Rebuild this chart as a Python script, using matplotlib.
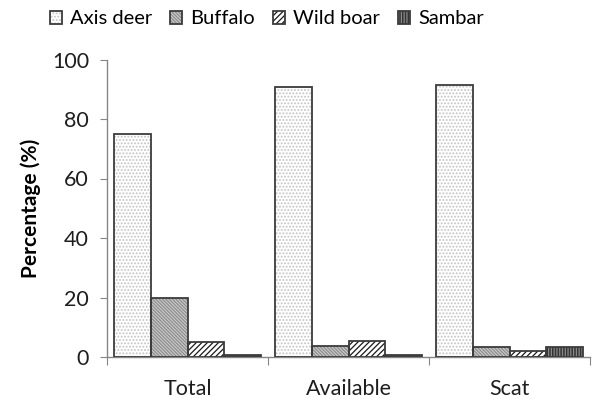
import matplotlib
matplotlib.use("Agg")
import matplotlib.pyplot as plt
import numpy as np
from matplotlib.legend_handler import HandlerTuple

# data
categories = ["Total", "Available", "Scat"]
species = ["Axis deer", "Buffalo", "Wild boar", "Sambar"]
axis_deer = [74.9, 90.9, 91.5]
buffalo = [19.9, 3.8, 3.3]
wild_boar = [5.1, 5.4, 2.1]
sambar = [0.6, 0.6, 3.3]

# fill, hatch, hatch colour per species
styles = [
    ("#ffffff", ".....", "#c4c4c4"),
    ("#cbcbcb", "\\" * 10, "#8e8e8e"),
    ("#ffffff", "//////", "#1a1a1a"),
    ("#333333", "||||||", "#8a8a8a"),
]
OUTLINE = "#3c3c3c"
AXIS = "#868686"

plt.rcParams["font.family"] = ["Lato", "DejaVu Sans"]
plt.rcParams["hatch.linewidth"] = 0.9

fig = plt.figure(figsize=(5.92, 4.01), dpi=100)
ax = fig.add_axes([107 / 592, 44 / 401, 483 / 592, 297.5 / 401])

x = np.arange(len(categories))
w = 0.227
handles = []
for i, (vals, (fc, hatch, hc)) in enumerate(zip([axis_deer, buffalo, wild_boar, sambar], styles)):
    pos = x + (i - 1.5) * w
    b1 = ax.bar(pos, vals, w, color=fc, hatch=hatch, edgecolor=hc, linewidth=0, zorder=2)
    b2 = ax.bar(pos, vals, w, facecolor="none", edgecolor=OUTLINE, linewidth=1.3, zorder=3)
    handles.append((b1[0], b2[0]))

ax.set_xlim(-0.5, 2.5)
ax.set_ylim(0, 100)
ax.set_yticks([0, 20, 40, 60, 80, 100])
ax.tick_params(axis="y", direction="out", length=5, color=AXIS, labelsize=15.5, labelcolor="#1e1e1e", pad=8)

ax.set_xticks([-0.5, 0.5, 1.5, 2.5])
ax.set_xticklabels([])
ax.set_xticks(x, minor=True)
ax.set_xticklabels(categories, minor=True)
ax.tick_params(axis="x", which="major", direction="out", length=6, color=AXIS)
ax.tick_params(axis="x", which="minor", length=0, labelsize=15.5, labelcolor="#1e1e1e", pad=16)

for side in ["top", "right"]:
    ax.spines[side].set_visible(False)
for side in ["left", "bottom"]:
    ax.spines[side].set_color(AXIS)
    ax.spines[side].set_linewidth(1.0)

ax.set_ylabel("Percentage (%)", fontsize=15, fontweight="bold", labelpad=8)

fig.legend(handles, species, handler_map={tuple: HandlerTuple(ndivide=1)},
           loc="center", bbox_to_anchor=(267 / 592, 1 - 19 / 401), ncol=4,
           frameon=False, fontsize=14.5, handlelength=0.6, handleheight=0.6,
           handletextpad=0.4, columnspacing=0.9, borderpad=0)

fig.savefig("out.png", dpi=100)
